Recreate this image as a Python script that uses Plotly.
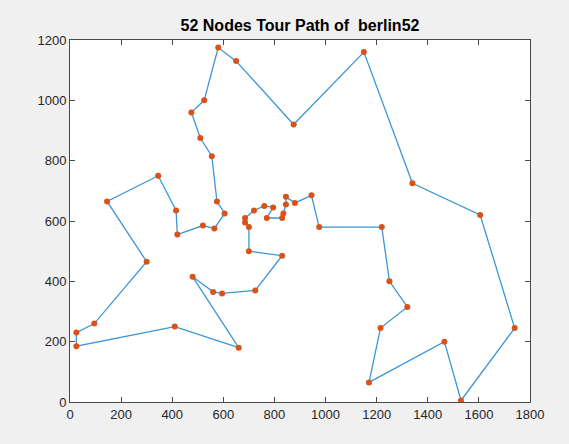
import plotly.graph_objects as go

# berlin52 node coordinates (node id 1..52)
node_x = [565, 25, 345, 945, 845, 880, 25, 525, 580, 650, 1605, 1220, 1465, 1530, 845, 725, 145, 415, 510, 560,
          300, 520, 480, 835, 975, 1215, 1320, 1250, 660, 410, 420, 575, 1150, 700, 685, 685, 770, 795, 720, 760,
          475, 95, 875, 700, 555, 830, 1170, 830, 605, 595, 1340, 1740]
node_y = [575, 185, 750, 685, 655, 660, 230, 1000, 1175, 1130, 620, 580, 200, 5, 680, 370, 665, 635, 875, 365,
          465, 585, 415, 625, 580, 245, 315, 400, 180, 250, 555, 665, 1160, 580, 595, 610, 610, 645, 635, 650,
          960, 260, 920, 500, 815, 485, 65, 610, 625, 360, 725, 245]

# tour order (1-based node ids), closed
tour = [1, 22, 31, 18, 3, 17, 21, 42, 7, 2, 30, 29, 23, 20, 50, 16, 46, 44, 34, 35, 36, 39, 40, 38, 37, 48, 24,
        5, 15, 6, 4, 25, 12, 28, 27, 26, 47, 13, 14, 52, 11, 51, 33, 43, 10, 9, 8, 41, 19, 45, 32, 49, 1]

x_ticks = [0, 200, 400, 600, 800, 1000, 1200, 1400, 1600, 1800]
y_ticks = [0, 200, 400, 600, 800, 1000, 1200]

path_x = [node_x[i - 1] for i in tour]
path_y = [node_y[i - 1] for i in tour]

fig = go.Figure()
fig.add_trace(go.Scatter(x=path_x, y=path_y, mode="lines",
                         line=dict(color="#3b96d6", width=1.3), hoverinfo="skip", showlegend=False))
fig.add_trace(go.Scatter(x=node_x, y=node_y, mode="markers",
                         marker=dict(color="#D95319", size=6), showlegend=False))

axis_common = dict(showgrid=False, zeroline=False, showline=True, linecolor="#4a4a4a", linewidth=1,
                   mirror="ticks", ticks="inside", ticklen=5, tickcolor="#4a4a4a", automargin=False,
                   tickfont=dict(family="Liberation Sans, Arial, sans-serif", size=13, color="#262626"))

fig.update_layout(
    template="none",
    width=569, height=444,
    margin=dict(l=70, r=39, t=40, b=42),
    paper_bgcolor="#f0f0f0", plot_bgcolor="white",
    title=dict(text="<b>52 Nodes Tour Path of\u00a0\u00a0berlin52</b>", x=0.5, xref="paper", xanchor="center",
               y=1 - 25.5 / 444, yanchor="middle", automargin=False,
               font=dict(family="Liberation Sans, Arial, sans-serif", size=16, color="#000000")),
    xaxis=dict(range=[0, 1800], tickvals=x_ticks, **axis_common),
    yaxis=dict(range=[0, 1200], tickvals=y_ticks, **axis_common),
)

fig.write_html("out.html", config={"displayModeBar": False},
               post_script="document.body.style.margin='0';document.body.style.background='#f0f0f0';")
